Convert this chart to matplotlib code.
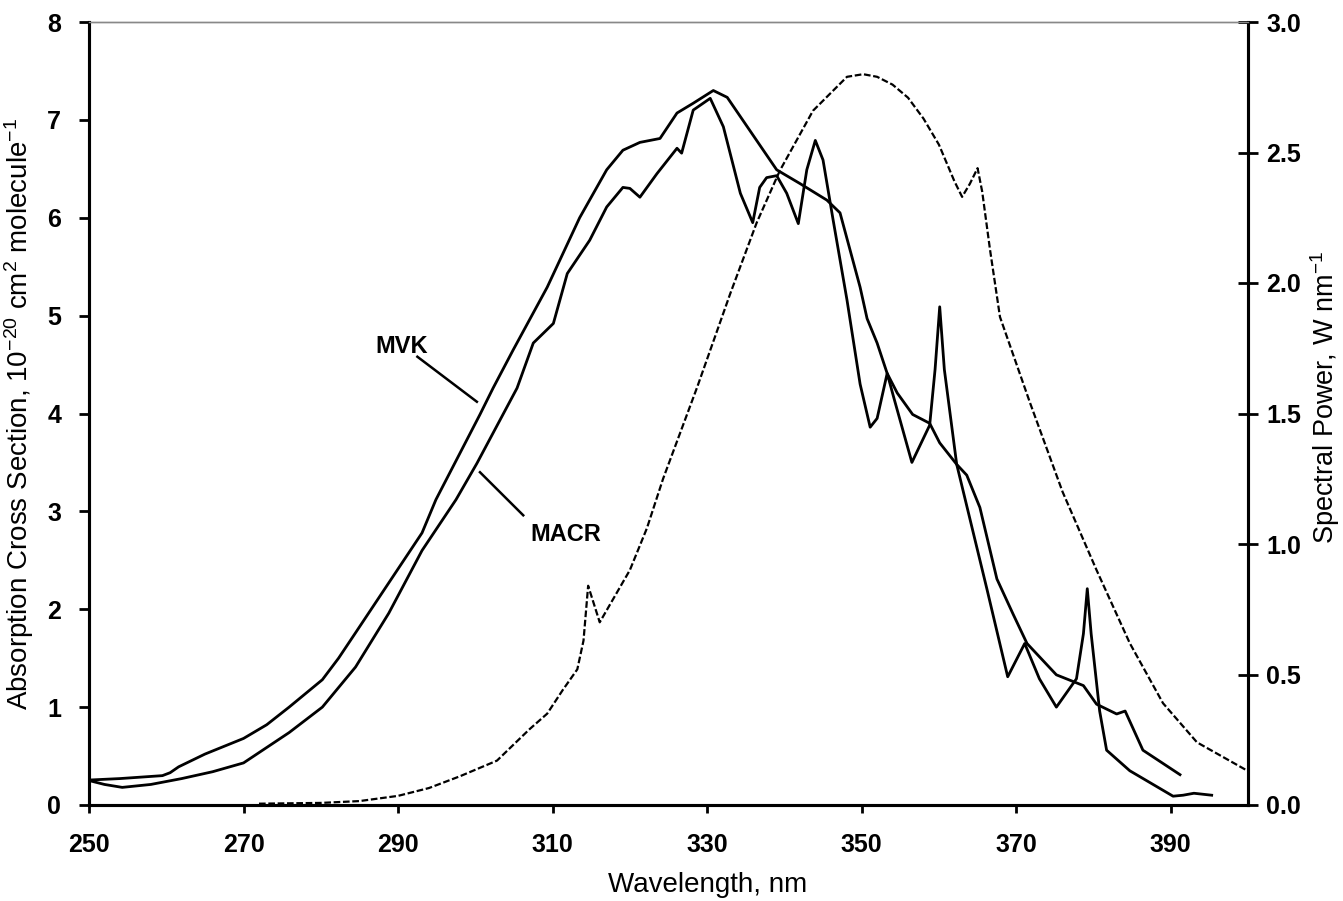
import matplotlib
matplotlib.use("Agg")
import matplotlib.pyplot as plt

plt.rcParams['font.family'] = ['Liberation Sans', 'DejaVu Sans']
plt.rcParams['mathtext.fontset'] = 'custom'
plt.rcParams['mathtext.rm'] = 'Liberation Sans'
plt.rcParams['mathtext.it'] = 'Liberation Sans:italic'
plt.rcParams['mathtext.bf'] = 'Liberation Sans:bold'

# MVK absorption cross section (1e-20 cm2 molecule-1)
mvk_wl = [250, 254, 259.5, 260.5, 261.6, 265, 270, 273, 275.9, 280.2, 282.3, 284.5,
          288.8, 293.1, 294.9, 300.6, 302.3, 304.9, 309.3, 313.5, 317, 319.1, 321.3,
          323.9, 326.1, 328.2, 330.8, 332.6, 339, 342, 345.5, 347.2, 348.5, 349.8,
          350.7, 352, 353.3, 354.6, 356.6, 358.8, 360.1, 362.3, 363.6, 365.3, 367.5,
          369.6, 371.4, 375.2, 378.7, 380.4, 383, 384.1, 386.4, 391.2]
mvk_val = [0.255, 0.27, 0.30, 0.33, 0.39, 0.52, 0.68, 0.82, 1.0, 1.28, 1.5, 1.76,
           2.27, 2.78, 3.12, 3.99, 4.26, 4.65, 5.29, 6.0, 6.49, 6.69, 6.77,
           6.81, 7.07, 7.17, 7.30, 7.23, 6.49, 6.35, 6.18, 6.05, 5.67, 5.29,
           4.97, 4.72, 4.41, 4.21, 3.99, 3.90, 3.70, 3.48, 3.37, 3.04, 2.31,
           1.95, 1.65, 1.33, 1.22, 1.03, 0.93, 0.96, 0.56, 0.31]

# MACR absorption cross section
macr_wl = [250, 252, 254.3, 258, 262, 266, 270, 275.9, 280.2, 284.5, 288.8, 293.1,
           297.5, 300.2, 305.4, 307.5, 310.1, 311.9, 314.8, 317, 319.1, 320, 321.3,
           323.5, 326.1, 326.7, 328.2, 330.4, 332.1, 334.3, 335.9, 336.8, 337.7, 339,
           340.3, 341.8, 342.9, 344, 345, 346.3, 348.1, 349.8, 351.1, 352, 353.3,
           354.2, 356.5, 358.8, 359.5, 360.1, 360.7, 362.3, 366.2, 368.9, 371.1, 373,
           375.2, 377.8, 378.7, 379.2, 379.7, 380.8, 381.7, 384.7, 390.3, 391.6, 393,
           395.3]
macr_val = [0.25, 0.21, 0.18, 0.21, 0.27, 0.34, 0.43, 0.74, 1.0, 1.41, 1.96, 2.60,
            3.12, 3.49, 4.26, 4.72, 4.92, 5.43, 5.77, 6.11, 6.31, 6.30, 6.21,
            6.45, 6.71, 6.66, 7.10, 7.22, 6.93, 6.25, 5.95, 6.31, 6.41, 6.43,
            6.25, 5.94, 6.49, 6.79, 6.59, 5.98, 5.16, 4.30, 3.86, 3.95, 4.41,
            4.15, 3.50, 3.88, 4.45, 5.09, 4.45, 3.48, 2.21, 1.31, 1.65, 1.29,
            1.00, 1.29, 1.75, 2.21, 1.75, 0.96, 0.56, 0.35, 0.09, 0.10, 0.12,
            0.10]

# lamp spectral power (W nm-1), right axis
lamp_wl = [272, 280, 285, 290, 294, 298, 302.8, 307, 309.3, 311.3, 313.2, 314.0,
           314.6, 316.1, 320, 322.2, 324.3, 328.7, 333, 336.4, 339.4, 343.7, 348.1,
           350.2, 352, 354, 356, 358, 360, 361, 362, 363, 364, 365, 365.6, 366.6,
           367.9, 371.8, 376, 380.4, 384.7, 389, 393.4, 400]
lamp_val = [0.005, 0.008, 0.015, 0.035, 0.065, 0.11, 0.17, 0.29, 0.35, 0.44, 0.52, 0.63,
            0.84, 0.70, 0.90, 1.06, 1.25, 1.60, 1.96, 2.23, 2.43, 2.66, 2.79,
            2.80, 2.79, 2.76, 2.71, 2.63, 2.53, 2.46, 2.39, 2.33, 2.38, 2.44, 2.35,
            2.13, 1.87, 1.54, 1.20, 0.90, 0.62, 0.39, 0.24, 0.13]

x_ticks = [250, 270, 290, 310, 330, 350, 370, 390]
left_ticks = [0, 1, 2, 3, 4, 5, 6, 7, 8]
right_ticks = [0.0, 0.5, 1.0, 1.5, 2.0, 2.5, 3.0]

fig = plt.figure(figsize=(13.43, 9.01), dpi=100)
ax = fig.add_axes([89 / 1343, 96 / 901, 1159 / 1343, 783 / 901])
ax2 = ax.twinx()

ax.plot(mvk_wl, mvk_val, color='black', lw=2.0, solid_joinstyle='round')
ax.plot(macr_wl, macr_val, color='black', lw=2.0, solid_joinstyle='round')
ax2.plot(lamp_wl, lamp_val, color='black', lw=1.6, linestyle=(0, (3, 1.2)))

# curve labels with leader lines
ax.text(290.5, 4.68, 'MVK', fontsize=17, fontweight='bold', ha='center', va='center')
ax.plot([292.5, 300.2], [4.58, 4.12], color='black', lw=1.8)
ax.text(311.7, 2.76, 'MACR', fontsize=17, fontweight='bold', ha='center', va='center')
ax.plot([300.6, 306.2], [3.40, 2.96], color='black', lw=1.8)

ax.set_xlim(250, 400)
ax.set_ylim(0, 8)
ax2.set_ylim(0, 3)
ax.set_xticks(x_ticks)
ax.set_yticks(left_ticks)
ax2.set_yticks(right_ticks)
ax2.set_yticklabels([f'{t:.1f}' for t in right_ticks])

for a in (ax, ax2):
    for s in a.spines.values():
        s.set_linewidth(2.2)
    a.spines['top'].set_color('#888888')
    a.spines['top'].set_linewidth(1.0)

ax.tick_params(axis='x', direction='out', length=6, width=2, pad=14, labelsize=18)
ax.tick_params(axis='y', direction='out', length=7, width=2, pad=13, labelsize=18)
ax2.tick_params(axis='y', direction='inout', length=14, width=2, pad=6, labelsize=18)
for lab in ax.get_xticklabels() + ax.get_yticklabels() + ax2.get_yticklabels():
    lab.set_fontweight('bold')

ax.set_xlabel('Wavelength, nm', fontsize=20)
ax.xaxis.set_label_coords(0.534, -0.085)
ax.set_ylabel(r'Absorption Cross Section, 10$^{\mathrm{-20}}$ cm$^{\mathrm{2}}$ molecule$^{\mathrm{-1}}$',
              fontsize=20)
ax.yaxis.set_label_coords(-0.046, 0.5)
ax2.set_ylabel(r'Spectral Power, W nm$^{\mathrm{-1}}$', fontsize=19.5)
ax2.yaxis.set_label_coords(1.052, 0.52)

fig.savefig('out.png', dpi=100)
